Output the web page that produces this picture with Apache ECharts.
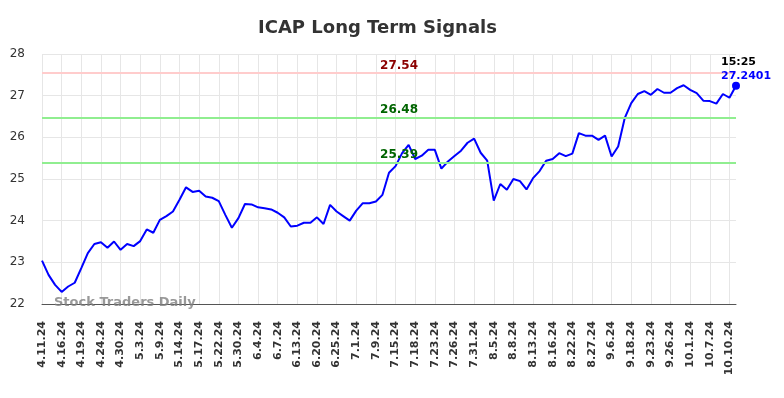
<!DOCTYPE html>
<html>
<head>
<meta charset="utf-8">
<script src="https://cdn.jsdelivr.net/npm/echarts@6/dist/echarts.min.js"></script>
<style>
  html, body { margin: 0; padding: 0; background: #fff; }
  #chart { width: 784px; height: 398px; }
</style>
</head>
<body>
<div id="chart"></div>
<script>
const dates = [
  '4.11.24', '4.12.24', '4.15.24', '4.16.24', '4.17.24', '4.18.24', '4.19.24', '4.22.24', '4.23.24',
  '4.24.24', '4.25.24', '4.29.24', '4.30.24', '5.1.24', '5.2.24', '5.3.24', '5.6.24', '5.8.24',
  '5.9.24', '5.10.24', '5.13.24', '5.14.24', '5.15.24', '5.16.24', '5.17.24', '5.20.24', '5.21.24',
  '5.22.24', '5.23.24', '5.28.24', '5.30.24', '5.31.24', '6.3.24', '6.4.24', '6.5.24', '6.6.24',
  '6.7.24', '6.10.24', '6.12.24', '6.13.24', '6.14.24', '6.18.24', '6.20.24', '6.21.24', '6.24.24',
  '6.25.24', '6.26.24', '6.28.24', '7.1.24', '7.3.24', '7.8.24', '7.9.24', '7.11.24', '7.12.24',
  '7.15.24', '7.16.24', '7.17.24', '7.18.24', '7.19.24', '7.22.24', '7.23.24', '7.24.24', '7.25.24',
  '7.26.24', '7.29.24', '7.30.24', '7.31.24', '8.1.24', '8.2.24', '8.5.24', '8.6.24', '8.7.24',
  '8.8.24', '8.9.24', '8.12.24', '8.13.24', '8.14.24', '8.15.24', '8.16.24', '8.19.24', '8.21.24',
  '8.22.24', '8.23.24', '8.26.24', '8.27.24', '8.29.24', '9.3.24', '9.6.24', '9.10.24', '9.16.24',
  '9.18.24', '9.19.24', '9.20.24', '9.23.24', '9.24.24', '9.25.24', '9.26.24', '9.27.24', '9.30.24',
  '10.1.24', '10.2.24', '10.4.24', '10.7.24', '10.8.24', '10.9.24', '10.10.24', '10.11.24'
]

const prices = [
  23.04, 22.70, 22.46, 22.29, 22.42, 22.51, 22.86, 23.22, 23.44, 23.48,
  23.35, 23.50, 23.30, 23.44, 23.39, 23.51, 23.79, 23.71, 24.02, 24.11,
  24.22, 24.50, 24.80, 24.69, 24.72, 24.58, 24.55, 24.47, 24.14, 23.83,
  24.06, 24.40, 24.39, 24.32, 24.30, 24.27, 24.19, 24.08, 23.86, 23.88,
  23.95, 23.95, 24.08, 23.92, 24.38, 24.22, 24.11, 24.00, 24.24, 24.42,
  24.42, 24.46, 24.62, 25.15, 25.31, 25.62, 25.82, 25.48, 25.56, 25.70,
  25.70, 25.25, 25.42, 25.55, 25.68, 25.87, 25.97, 25.63, 25.44, 24.48,
  24.88, 24.74, 25.00, 24.95, 24.75, 25.02, 25.19, 25.44, 25.48, 25.62,
  25.55, 25.61, 26.10, 26.04, 26.04, 25.94, 26.04, 25.54, 25.78, 26.46,
  26.82, 27.04, 27.11, 27.02, 27.16, 27.07, 27.07, 27.18, 27.25, 27.14,
  27.06, 26.88, 26.87, 26.81, 27.04, 26.95, 27.2401
]

// signal levels: value, line colour, label colour
const levels = [27.54, 26.48, 25.39]
const levelLineColors = ['#ffcccc', '#90ee90', '#90ee90']
const levelTextColors = ['#8b0000', '#006400', '#006400']
const levelLabelDate = '7.16.24'

const lastTime = '15:25'
const yTicks = { min: 22, max: 28, step: 1 }

const FONT = 'DejaVu Sans'
const chart = echarts.init(document.getElementById('chart'))

const lastIdx = prices.length - 1

chart.setOption({
  animation: false,
  textStyle: { fontFamily: FONT },
  title: {
    text: 'ICAP Long Term Signals',
    left: 253,
    top: 14,
    textStyle: { fontFamily: FONT, fontSize: 18, fontWeight: 'bold', color: '#333' }
  },
  grid: { left: 42, right: 48, top: 54, bottom: 94 },
  xAxis: {
    type: 'category',
    data: dates,
    boundaryGap: false,
    axisLine: { lineStyle: { color: '#555', width: 1 } },
    axisTick: { show: false },
    axisLabel: {
      interval: 2,
      rotate: 90,
      margin: 17,
      fontFamily: FONT,
      fontSize: 11,
      fontWeight: 'bold',
      color: '#333'
    },
    splitLine: { show: true, interval: 2, lineStyle: { color: '#e6e6e6' } }
  },
  yAxis: {
    type: 'value',
    min: yTicks.min,
    max: yTicks.max,
    interval: yTicks.step,
    axisLine: { show: false },
    axisTick: { show: false },
    axisLabel: { margin: 17, fontFamily: FONT, fontSize: 12, color: '#333' },
    splitLine: { lineStyle: { color: '#e6e6e6' } }
  },
  graphic: [{
    type: 'text',
    left: 54,
    top: 296,
    z: 100,
    style: {
      text: 'Stock Traders Daily',
      font: 'bold 13px "DejaVu Sans"',
      fill: 'rgba(128,128,128,0.8)'
    }
  }],
  series: [{
    type: 'line',
    data: prices,
    showSymbol: false,
    lineStyle: { color: '#0000ff', width: 2 },
    itemStyle: { color: '#0000ff' },
    markLine: {
      silent: true,
      symbol: 'none',
      label: { show: false },
      data: levels.map((v, i) => ({
        yAxis: v,
        lineStyle: { color: levelLineColors[i], width: 2, type: 'solid' }
      }))
    },
    markPoint: {
      silent: true,
      data: levels.map((v, i) => ({
        coord: [levelLabelDate, v],
        symbol: 'circle',
        symbolSize: 1,
        itemStyle: { color: 'rgba(0,0,0,0)' },
        label: {
          show: true,
          position: 'top',
          distance: 1,
          offset: [-3, 0],
          formatter: v.toFixed(2),
          fontFamily: FONT,
          fontSize: 12,
          fontWeight: 'bold',
          color: levelTextColors[i]
        }
      })).concat([{
        coord: [dates[lastIdx], prices[lastIdx]],
        symbol: 'circle',
        symbolSize: 8,
        itemStyle: { color: '#0000ff' },
        label: {
          show: true,
          position: [-11, -27],
          align: 'left',
          formatter: '{t|' + lastTime + '}\n{v|' + prices[lastIdx] + '}',
          rich: {
            t: { fontFamily: FONT, fontSize: 11, fontWeight: 'bold', color: '#000', lineHeight: 14 },
            v: { fontFamily: FONT, fontSize: 11, fontWeight: 'bold', color: '#0000ff', lineHeight: 14 }
          }
        }
      }])
    }
  }]
})
</script>
</body>
</html>
